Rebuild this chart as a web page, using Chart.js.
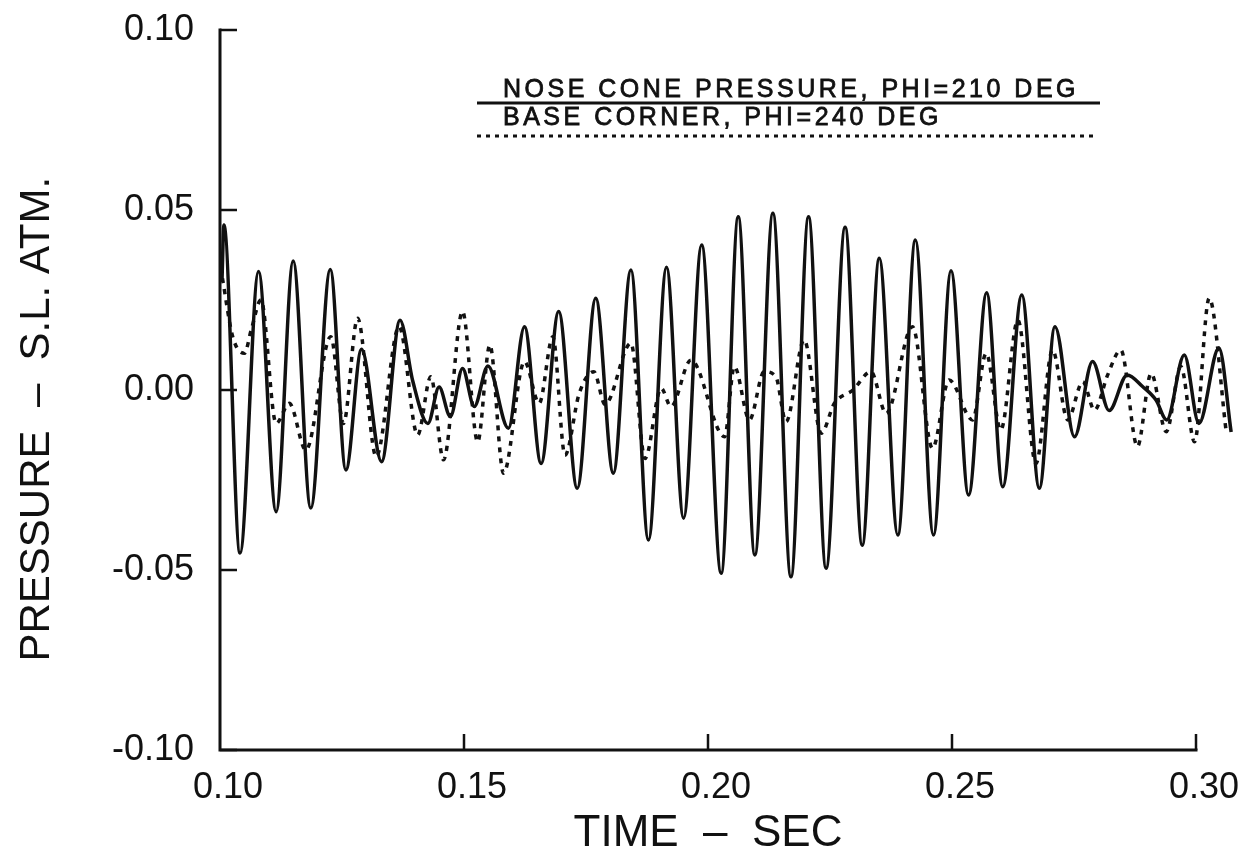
<!DOCTYPE html>
<html>
<head>
<meta charset="utf-8">
<script src="https://cdn.jsdelivr.net/npm/chart.js@4.4.1/dist/chart.umd.min.js"></script>
<style>
  html, body { margin: 0; padding: 0; background: #fff; }
  #wrap { width: 1256px; height: 865px; }
</style>
</head>
<body>
<div id="wrap"><canvas id="chart" width="1256" height="865"></canvas></div>
<script>
// pressure traces (time in sec, pressure in S.L. atm)
const noseLabel = "NOSE CONE PRESSURE, PHI=210 DEG";
const noseTime = [0.1004, 0.1008, 0.1041, 0.1079, 0.1115, 0.1150, 0.1186, 0.1226, 0.1258, 0.1290,
  0.1331, 0.1369, 0.1395, 0.1426, 0.1449, 0.1472, 0.1497, 0.1521, 0.1549, 0.1591,
  0.1624, 0.1658, 0.1694, 0.1732, 0.1770, 0.1806, 0.1842, 0.1878, 0.1915, 0.1950,
  0.1987, 0.2027, 0.2062, 0.2096, 0.2133, 0.2170, 0.2206, 0.2242, 0.2281, 0.2316,
  0.2351, 0.2389, 0.2425, 0.2462, 0.2498, 0.2534, 0.2571, 0.2604, 0.2643, 0.2679,
  0.2711, 0.2751, 0.2788, 0.2822, 0.2859, 0.2891, 0.2918, 0.2940, 0.2976, 0.3006,
  0.3047, 0.3072];
const noseP = [0.030, 0.0458, -0.0453, 0.0329, -0.0338, 0.0358, -0.0328, 0.0335, -0.0222, 0.0113,
  -0.0199, 0.0194, 0.0025, -0.0093, 0.0008, -0.0074, 0.0060, -0.0046, 0.0067, -0.0106,
  0.0176, -0.0204, 0.0218, -0.0273, 0.0255, -0.0231, 0.0333, -0.0417, 0.0341, -0.0356,
  0.0403, -0.0509, 0.0481, -0.0458, 0.0491, -0.0519, 0.0481, -0.0495, 0.0452, -0.0431,
  0.0366, -0.0403, 0.0417, -0.0403, 0.0331, -0.0292, 0.0270, -0.0269, 0.0264, -0.0273,
  0.0176, -0.0130, 0.0079, -0.0057, 0.0042, 0.0009, -0.0028, -0.0083, 0.0097, -0.0093,
  0.0117, -0.0117];

const baseLabel = "BASE CORNER, PHI=240 DEG";
const baseTime = [0.1005, 0.1026, 0.1050, 0.1064, 0.1084, 0.1115, 0.1142, 0.1176, 0.1227, 0.1253,
  0.1282, 0.1320, 0.1367, 0.1405, 0.1432, 0.1458, 0.1497, 0.1528, 0.1553, 0.1581,
  0.1624, 0.1654, 0.1682, 0.1707, 0.1736, 0.1766, 0.1789, 0.1842, 0.1871, 0.1904,
  0.1924, 0.1965, 0.2034, 0.2054, 0.2085, 0.2115, 0.2139, 0.2160, 0.2197, 0.2232,
  0.2259, 0.2297, 0.2334, 0.2365, 0.2419, 0.2460, 0.2494, 0.2542, 0.2570, 0.2600,
  0.2635, 0.2672, 0.2706, 0.2737, 0.2768, 0.2792, 0.2819, 0.2846, 0.2880, 0.2908,
  0.2939, 0.2969, 0.2997, 0.3027, 0.3062];
const baseP = [0.031, 0.0148, 0.0102, 0.0167, 0.0250, -0.0093, -0.0037, -0.0167, 0.0148, -0.0093,
  0.0199, -0.0185, 0.0176, -0.0125, 0.0037, -0.0194, 0.0218, -0.0144, 0.0125, -0.0231,
  0.0079, -0.0037, 0.0148, -0.0181, -0.0010, 0.0051, -0.0040, 0.0130, -0.0190, 0.0005,
  -0.0046, 0.0083, -0.0130, 0.0065, -0.0083, 0.0051, 0.0037, -0.0088, 0.0139, -0.0120,
  -0.0037, 0.0000, 0.0051, -0.0065, 0.0176, -0.0162, 0.0028, -0.0083, 0.0102, -0.0111,
  0.0194, -0.0204, 0.0111, -0.0083, 0.0023, -0.0056, 0.0042, 0.0111, -0.0157, 0.0046,
  -0.0116, 0.0065, -0.0144, 0.0255, -0.0117];

const xTicks = [0.10, 0.15, 0.20, 0.25, 0.30];
const xTickLabels = ["0.10", "0.15", "0.20", "0.25", "0.30"];
const yTicks = [-0.10, -0.05, 0.00, 0.05, 0.10];
const yTickLabels = ["-0.10", "-0.05", "0.00", "0.05", "0.10"];

const ink = "#111";
const FONT = "'Liberation Sans', Arial, sans-serif";

function pts(xs, ys) {
  return xs.map((x, i) => ({ x: x, y: ys[i] }));
}

// axis lines with inward ticks, plus the underlined legend at the top
const plotterAxes = {
  id: "plotterAxes",
  afterDatasetsDraw(chart) {
    const ctx = chart.ctx;
    const x = chart.scales.x, y = chart.scales.y;
    const left = x.getPixelForValue(xTicks[0]);
    const right = x.getPixelForValue(xTicks[xTicks.length - 1]);
    const top = y.getPixelForValue(yTicks[yTicks.length - 1]);
    const bottom = y.getPixelForValue(yTicks[0]);
    ctx.save();
    ctx.strokeStyle = ink;
    ctx.lineWidth = 3;
    ctx.lineCap = "square";
    ctx.beginPath();
    ctx.moveTo(left, top);
    ctx.lineTo(left, bottom);
    ctx.lineTo(right, bottom);
    ctx.stroke();
    ctx.lineWidth = 2.5;
    ctx.lineCap = "butt";
    ctx.beginPath();
    yTicks.forEach(v => {
      const py = y.getPixelForValue(v);
      ctx.moveTo(left, py);
      ctx.lineTo(left + 17, py);
    });
    xTicks.slice(1).forEach(v => {
      const px = x.getPixelForValue(v);
      ctx.moveTo(px, bottom);
      ctx.lineTo(px, bottom - 16);
    });
    ctx.stroke();

    // legend
    const rows = [
      { ds: chart.data.datasets[0], base: 97, line: 103, x2: 1100 },
      { ds: chart.data.datasets[1], base: 125, line: 136, x2: 1095 },
    ];
    ctx.fillStyle = ink;
    ctx.font = "25px " + FONT;
    ctx.textBaseline = "alphabetic";
    ctx.textAlign = "left";
    if ("letterSpacing" in ctx) ctx.letterSpacing = "3.5px";
    rows.forEach(r => {
      ctx.lineWidth = 0.8;
      ctx.setLineDash([]);
      ctx.fillText(r.ds.label, 503, r.base);
      ctx.strokeText(r.ds.label, 503, r.base);
      ctx.setLineDash(r.ds.borderDash && r.ds.borderDash.length ? [4, 5] : []);
      ctx.lineWidth = 3;
      ctx.beginPath();
      ctx.moveTo(477, r.line);
      ctx.lineTo(r.x2, r.line);
      ctx.stroke();
    });
    ctx.restore();
  },
};

new Chart(document.getElementById("chart"), {
  type: "line",
  data: {
    datasets: [
      {
        label: noseLabel,
        data: pts(noseTime, noseP),
        borderColor: ink,
        borderWidth: 3.5,
        pointRadius: 0,
        cubicInterpolationMode: "monotone",
        clip: false,
      },
      {
        label: baseLabel,
        data: pts(baseTime, baseP),
        borderColor: ink,
        borderWidth: 3.5,
        borderDash: [5, 6],
        pointRadius: 0,
        cubicInterpolationMode: "monotone",
        clip: false,
      },
    ],
  },
  options: {
    responsive: false,
    animation: false,
    layout: {
      padding: { top: 30, right: 60, bottom: 0, left: 0 },
    },
    plugins: {
      legend: { display: false },
      tooltip: { enabled: false },
    },
    scales: {
      x: {
        type: "linear",
        bounds: "data",
        // range set here (not as options.max) so the trace past 0.30 is still drawn
        afterDataLimits: s => { s.min = 0.10; s.max = 0.30; },
        grid: { display: false },
        border: { display: false },
        afterBuildTicks: s => { s.ticks = xTicks.map(v => ({ value: v })); },
        afterFit: s => { s.height = 115; s.paddingLeft = 0; s.paddingRight = 0; },
        ticks: {
          color: ink,
          padding: 8,
          labelOffset: 8,
          maxRotation: 0,
          font: { family: FONT, size: 36 },
          callback: (v, i) => xTickLabels[i],
        },
        title: {
          display: true,
          text: "TIME  \u2013  SEC",
          color: ink,
          padding: { top: 0, bottom: 5 },
          font: { family: FONT, size: 44 },
        },
      },
      y: {
        type: "linear",
        min: -0.10,
        max: 0.10,
        grid: { display: false },
        border: { display: false },
        afterBuildTicks: s => { s.ticks = yTicks.map(v => ({ value: v })); },
        afterFit: s => { s.width = 220; s.paddingTop = 0; s.paddingBottom = 0; },
        ticks: {
          color: ink,
          padding: 18,
          font: { family: FONT, size: 36 },
          callback: (v, i) => yTickLabels[i],
        },
        title: {
          display: true,
          text: "PRESSURE  \u2013  S.L. ATM.     ",
          color: ink,
          padding: { top: 12, bottom: 0 },
          font: { family: FONT, size: 42 },
        },
      },
    },
  },
  plugins: [plotterAxes],
});
</script>
</body>
</html>
